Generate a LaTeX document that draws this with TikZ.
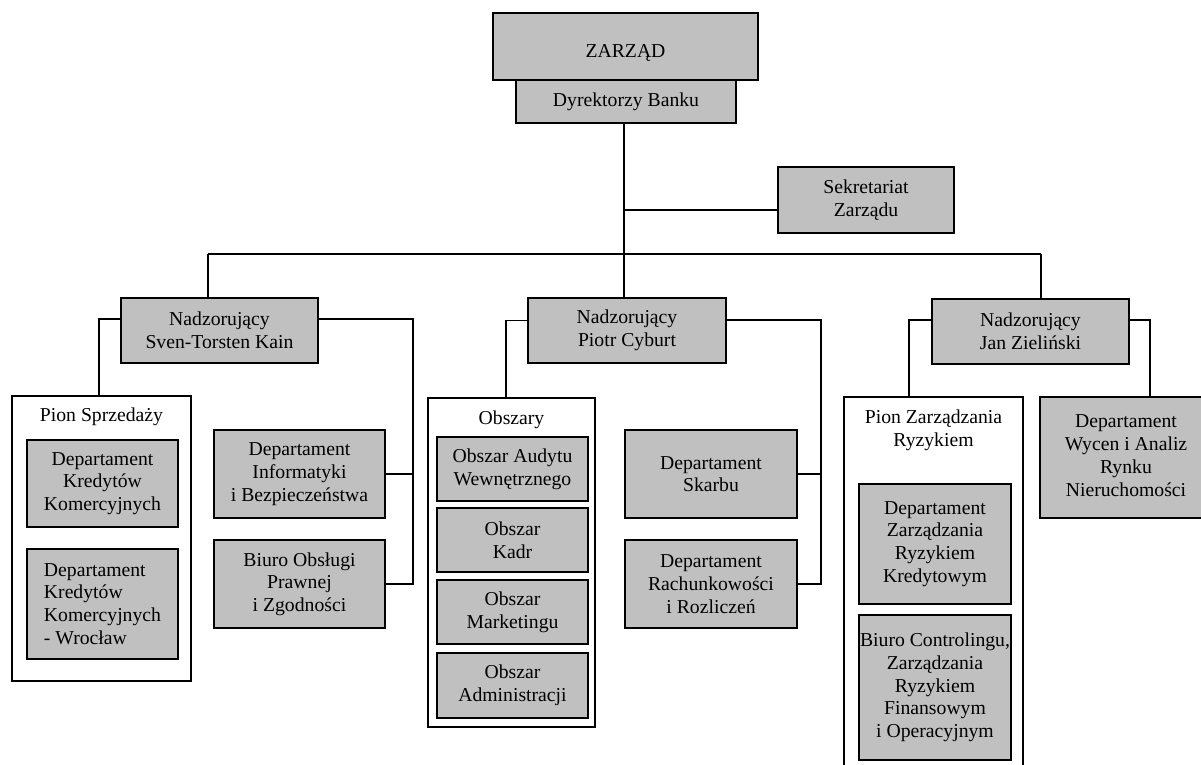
\documentclass[tikz,border=0pt]{standalone}
\usepackage{fontspec}
\setmainfont{Liberation Serif}
\definecolor{boxgray}{RGB}{192,192,192}
\tikzset{
  box/.style={draw=black, fill=boxgray, line width=1.8pt, inner sep=0pt, outer sep=0pt, align=center},
  frame/.style={draw=black, fill=white, line width=1.8pt, inner sep=0pt, outer sep=0pt},
  ttl/.style={inner sep=0pt, align=center},
  conn/.style={draw=black, line width=1.8pt},
}
\begin{document}
\begin{tikzpicture}[x=1pt,y=-1pt,font=\fontsize{19.7}{22.7}\selectfont]
\clip (0,0) rectangle (1201,765);
\fill[white] (0,0) rectangle (1201,765);
% top
\node[box, minimum width=265pt, minimum height=67pt] (zar) at (625.5,46.5) {\raisebox{-10.8pt}[0pt][0pt]{ZARZĄD}};
\node[box, minimum width=220pt, minimum height=43pt] (dyr) at (626,101.5) {Dyrektorzy Banku};
\node[box, minimum width=176pt, minimum height=66pt] (sek) at (866,200) {Sekretariat\\Zarządu};
\coordinate (bM) at (624,254);
\coordinate (bL) at (208,254);
\coordinate (bR) at (1041,254);
% supervisors
\node[box, minimum width=197pt, minimum height=65pt] (sk) at (219.5,330.5) {Nadzorujący\\Sven-Torsten Kain};
\node[box, minimum width=198pt, minimum height=65pt] (pc) at (627,330.5) {Nadzorujący\\Piotr Cyburt};
\node[box, minimum width=197pt, minimum height=65pt] (jz) at (1030.5,331.5) {Nadzorujący\\Jan Zieliński};
% left group
\node[frame, minimum width=179pt, minimum height=285pt] (ps) at (101.5,538.5) {};
\node[ttl] (pst) at (101.5,417) {Pion Sprzedaży};
\node[box, minimum width=151pt, minimum height=87pt] (dk1) at (102.5,483.5) {Departament\\Kredytów\\Komercyjnych};
\node[box, minimum width=151pt, minimum height=110pt, align=left] (dk2) at (102.5,604) {Departament\\Kredytów\\Komercyjnych\\- Wrocław};
\node[box, minimum width=171pt, minimum height=88pt] (inf) at (299.5,474) {Departament\\Informatyki\\i Bezpieczeństwa};
\node[box, minimum width=171pt, minimum height=88pt] (bop) at (299.5,584) {Biuro Obsługi\\Prawnej\\i Zgodności};
% middle group
\node[frame, minimum width=167pt, minimum height=329pt] (obs) at (511.5,562.5) {};
\node[ttl] (obst) at (511.5,420) {Obszary};
\node[box, minimum width=151pt, minimum height=64pt] (o1) at (512.5,469) {Obszar Audytu\\Wewnętrznego};
\node[box, minimum width=151pt, minimum height=64pt] (o2) at (512.5,540) {Obszar\\Kadr};
\node[box, minimum width=151pt, minimum height=64pt] (o3) at (512.5,612) {Obszar\\Marketingu};
\node[box, minimum width=151pt, minimum height=65pt] (o4) at (512.5,685.5) {Obszar\\Administracji};
\node[box, minimum width=172pt, minimum height=88pt] (skar) at (711,474) {Departament\\Skarbu};
\node[box, minimum width=172pt, minimum height=88pt] (rach) at (711,584) {Departament\\Rachunkowości\\i Rozliczeń};
% right group
\node[frame, minimum width=179pt, minimum height=378pt] (pz) at (933.5,586) {};
\node[ttl] (pzt) at (933.5,430) {Pion Zarządzania\\Ryzykiem};
\node[box, minimum width=152pt, minimum height=120pt] (dz) at (935,544) {Departament\\Zarządzania\\Ryzykiem\\Kredytowym};
\node[box, minimum width=152pt, minimum height=145pt] (bc) at (935,687.5) {Biuro Controlingu,\\Zarządzania\\Ryzykiem\\Finansowym\\i Operacyjnym};
\node[box, minimum width=172pt, minimum height=121pt] (wy) at (1126,457.5) {\raisebox{12pt}{\begin{tabular}{@{}c@{}}Departament\\Wycen i Analiz\\Rynku\\Nieruchomości\end{tabular}}};
\coordinate (skR) at (413,0);
\coordinate (pcR) at (821,0);
% connectors
\draw[conn] (dyr.south -| bM) -- (bM);
\draw[conn] (bM) -- (pc.north -| bM);
\draw[conn] (sek.west |- 0,210) -- (sek.west |- 0,210 -| bM);
\draw[conn] (bL) -- (bR);
\draw[conn] (bL) -- (sk.north -| bL);
\draw[conn] (bR) -- (jz.north -| bR);
% SK
\draw[conn] ([yshift=11.5pt]sk.west) -| ([xshift=-2.5pt]ps.north);
\draw[conn] ([yshift=11.5pt]sk.east) -| (bop.east -| skR) -- (bop.east);
\draw[conn] (inf.east) -- (inf.east -| skR);
% PC
\draw[conn] ([yshift=10pt]pc.west) -| ([xshift=-5.5pt]obs.north);
\draw[conn] ([yshift=10.5pt]pc.east) -| (rach.east -| pcR) -- (rach.east);
\draw[conn] (skar.east) -- (skar.east -| pcR);
% JZ
\draw[conn] ([yshift=11.5pt]jz.west) -| ([xshift=-24.5pt]pz.north);
\draw[conn] ([yshift=11.5pt]jz.east) -| ([xshift=24pt]wy.north);
\end{tikzpicture}
\end{document}
